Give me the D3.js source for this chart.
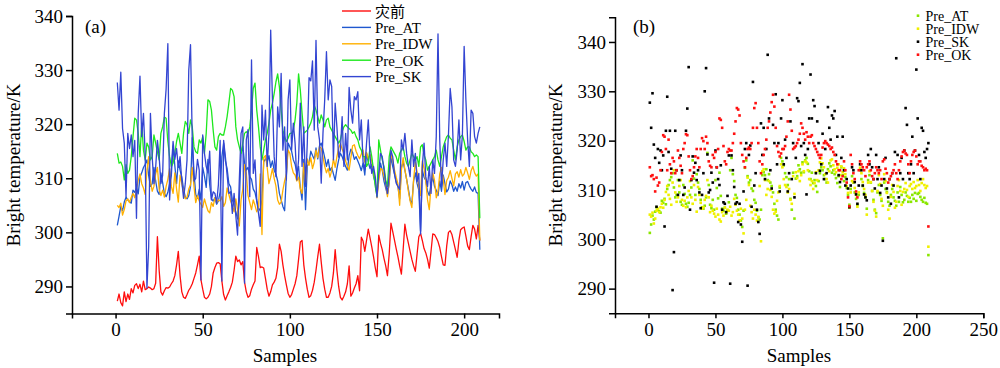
<!DOCTYPE html>
<html>
<head>
<meta charset="utf-8">
<script src="https://cdn.jsdelivr.net/npm/d3@7"></script>
<style>
  body { margin: 0; background: #fff; }
  svg { display: block; }
  .axis text { font-family: "Liberation Serif", "Times New Roman", serif; font-size: 19px; fill: #000; }
  .axis path, .axis line { stroke: #000; stroke-width: 1.5px; }
  .lbl { font-family: "Liberation Serif", "Times New Roman", serif; font-size: 19px; fill: #000; }
  .leg { font-family: "Liberation Serif", "Noto Sans CJK SC", serif; font-size: 15px; fill: #000; }
  .legb { font-family: "Liberation Serif", serif; font-size: 14px; fill: #000; }
</style>
</head>
<body>
<svg id="chart" width="1000" height="368"></svg>
<script>
// samples run from 1 to 209
var firstSample = 1;

var seriesNames = ["灾前", "Pre_AT", "Pre_IDW", "Pre_OK", "Pre_SK"];

var preDisaster = [
  287.3, 288.6, 287.0, 286.4, 289.0, 287.2, 288.6, 287.6, 289.6, 288.8,
  290.2, 290.5, 289.6, 290.4, 289.0, 291.0, 289.4, 289.6, 289.9, 289.7,
  289.4, 289.6, 290.6, 299.2, 293.0, 289.0, 288.4, 289.2, 289.8, 289.7,
  289.9, 290.5, 291.0, 292.0, 294.0, 296.5, 292.0, 289.0, 288.0, 287.8,
  288.5, 289.3, 289.8, 290.5, 291.5, 292.5, 294.0, 295.6, 291.2, 289.5,
  288.0, 287.7, 288.0, 288.6, 290.0, 292.5, 293.5, 294.3, 294.4, 294.2,
  291.0, 288.5, 287.5, 288.3, 289.0, 289.8, 290.8, 293.0, 295.6, 294.6,
  294.9, 294.0, 294.6, 290.8, 289.0, 288.0, 288.3, 289.5, 290.3, 291.0,
  297.2, 295.5, 293.5, 293.6, 293.4, 291.5, 289.5, 288.2, 289.0, 290.3,
  290.8, 291.5, 293.5, 297.8, 296.5, 294.0, 292.0, 290.3, 288.7, 288.0,
  288.5, 289.5, 290.5, 292.0, 295.0, 298.2, 298.5, 294.0, 291.5, 289.5,
  288.0, 288.3, 289.3, 290.8, 293.0, 295.5, 297.8, 294.5, 291.5, 289.5,
  288.0, 288.0, 288.8, 290.0, 292.5, 296.8, 293.0, 290.0, 288.0, 287.5,
  288.2, 289.0, 290.5, 293.8, 288.2, 288.8, 289.7, 290.5, 292.0, 289.2,
  299.1, 298.4, 296.5, 298.5, 300.6, 299.0, 297.3, 295.5, 293.5, 291.8,
  299.5, 298.0, 296.8, 295.2, 293.8, 292.0, 296.0, 301.7, 300.2, 298.6,
  297.0, 295.5, 293.8, 292.3, 296.8, 301.5, 299.5, 298.0, 296.5, 295.0,
  293.8, 292.8, 296.0, 299.2, 299.8, 298.5, 297.0, 296.2, 295.0, 293.4,
  296.5, 299.7, 299.6, 299.0, 298.3, 297.2, 295.5, 294.0, 293.9, 297.5,
  300.0, 300.3, 299.6, 298.2, 296.8, 295.4, 298.5, 300.5, 300.8, 301.0,
  299.3, 297.5, 296.8, 299.2, 301.3, 300.6, 298.8, 301.3, 298.5
];

var preAT = [
  301.3, 303.0, 304.8, 304.0, 305.6, 306.5, 306.0, 305.7, 305.4, 307.8,
  307.4, 308.2, 307.1, 310.2, 311.0, 312.0, 312.6, 313.4, 310.5, 308.5,
  309.0, 312.0, 309.5, 307.6, 307.0, 311.0, 309.2, 307.2, 306.6, 307.4,
  309.0, 310.5, 316.0, 312.3, 309.0, 313.2, 311.5, 310.2, 308.0, 306.5,
  306.2, 306.8, 308.5, 317.5, 311.0, 307.0, 306.3, 308.0, 306.0, 312.0,
  310.4, 308.3, 313.5, 308.8, 306.2, 305.8, 306.4, 305.2, 305.8, 307.5,
  314.0, 316.5, 313.2, 311.8, 309.0, 308.4, 306.0, 305.0, 303.8, 302.5,
  305.8, 314.5, 316.0, 312.8, 311.5, 312.0, 310.3, 309.8, 308.0, 307.4,
  305.8, 304.5, 304.0, 306.0, 313.0, 313.6, 313.0, 314.2, 312.0, 313.2,
  311.5, 310.8, 309.5, 307.2, 306.0, 304.8, 304.0, 310.5, 316.5, 315.8,
  315.0, 313.4, 312.6, 311.0, 312.2, 308.2, 306.0, 313.5, 304.2, 312.3,
  312.8, 315.0, 314.2, 313.5, 315.6, 313.6, 316.0, 316.5, 315.3, 313.8,
  312.2, 313.5, 311.4, 312.0, 310.8, 309.6, 311.8, 313.4, 314.6, 314.0,
  313.0, 312.2, 311.5, 314.2, 315.4, 314.8, 313.5, 314.0, 313.2, 312.4,
  311.4, 312.8, 310.6, 314.6, 313.0, 311.8, 312.6, 310.4, 309.0, 307.0,
  310.2, 312.8, 311.5, 309.5, 308.2, 307.0, 309.0, 314.0, 312.2, 310.8,
  309.4, 308.5, 306.2, 312.0, 313.0, 311.5, 309.8, 308.0, 306.0, 305.3,
  309.5, 311.0, 309.0, 307.8, 300.2, 311.5, 310.2, 309.6, 307.6, 306.8,
  309.0, 310.2, 308.5, 307.8, 306.8, 309.5, 307.6, 310.6, 309.0, 307.5,
  308.0, 309.5, 308.8, 307.6, 308.4, 307.6, 309.0, 308.2, 309.4, 307.8,
  309.2, 309.4, 308.6, 308.0, 307.6, 308.4, 307.4, 307.2, 296.8
];

var preIDW = [
  305.0, 304.6, 305.4, 303.2, 304.2, 305.8, 306.2, 305.5, 306.5, 307.2,
  306.4, 308.0, 309.6, 310.8, 309.0, 308.2, 307.0, 311.5, 314.0, 309.5,
  307.6, 308.5, 310.8, 312.0, 308.0, 306.8, 307.8, 306.5, 308.5, 309.8,
  311.8, 308.5, 307.2, 311.0, 308.0, 305.6, 310.6, 309.0, 307.4, 306.2,
  306.5, 308.0, 308.8, 312.0, 308.5, 305.5, 306.8, 305.8, 305.2, 304.6,
  306.2, 305.0, 304.0, 303.6, 305.5, 304.8, 306.4, 305.5, 306.0, 305.8,
  306.6, 304.8, 305.5, 308.2, 307.0, 305.8, 305.0, 303.8, 306.2, 304.2,
  301.2, 306.0, 308.0, 312.5, 311.0, 306.8, 305.5, 304.2, 306.0, 305.0,
  303.8, 304.5, 310.8, 299.6, 313.8, 314.2, 312.0, 309.0, 310.2, 311.8,
  310.0, 308.6, 306.0, 305.2, 305.6, 307.8, 309.5, 310.8, 315.2, 314.6,
  312.2, 311.0, 310.6, 309.5, 310.2, 308.0, 307.2, 312.8, 309.2, 313.6,
  312.4, 313.8, 311.8, 313.0, 315.2, 313.8, 315.8, 315.6, 314.0, 312.2,
  311.0, 311.8, 310.2, 311.4, 313.6, 312.0, 314.0, 315.6, 316.4, 315.4,
  314.6, 313.2, 312.2, 311.5, 313.8, 316.0, 316.2, 315.0, 314.2, 313.6,
  314.5, 315.2, 313.0, 314.8, 313.6, 314.4, 313.2, 310.8, 309.4, 306.4,
  309.5, 311.8, 311.6, 310.4, 309.0, 306.6, 309.5, 314.5, 313.4, 311.6,
  310.2, 309.0, 305.0, 311.5, 313.8, 311.6, 309.8, 307.6, 305.8, 304.6,
  309.8, 313.0, 311.2, 308.2, 306.8, 313.2, 311.8, 309.4, 306.0, 304.2,
  308.6, 311.0, 309.6, 306.4, 307.6, 310.8, 312.0, 309.8, 307.0, 309.6,
  310.2, 311.4, 310.0, 308.6, 310.8, 311.2, 310.2, 311.6, 310.4, 310.8,
  312.0, 311.0, 309.8, 311.4, 312.2, 311.0, 310.4, 310.8, 298.5
];

var preOK = [
  314.6, 312.8, 313.0, 312.2, 309.7, 312.5, 310.9, 311.5, 314.0, 317.7,
  321.1, 320.8, 318.3, 314.0, 320.2, 315.2, 313.4, 316.5, 315.8, 313.4,
  314.0, 318.0, 316.5, 314.9, 313.4, 318.3, 319.5, 321.3, 321.1, 316.8,
  314.0, 312.2, 312.8, 314.6, 316.8, 318.3, 316.5, 314.6, 318.3, 320.5,
  319.9, 318.3, 320.8, 319.5, 315.8, 314.9, 314.6, 317.1, 316.5, 317.7,
  314.6, 318.3, 324.5, 324.2, 322.6, 318.9, 315.8, 315.2, 317.7, 318.3,
  318.0, 318.0, 319.5, 321.4, 323.9, 326.6, 326.3, 325.1, 319.5, 317.1,
  315.8, 314.6, 316.5, 318.3, 318.6, 318.3, 319.5, 322.6, 326.6, 327.6,
  322.6, 319.5, 315.8, 313.4, 315.2, 317.1, 318.3, 320.2, 322.6, 323.9,
  325.7, 327.8, 329.3, 326.9, 322.6, 318.9, 317.7, 316.8, 317.4, 318.3,
  318.3, 318.9, 320.8, 323.9, 329.3, 326.3, 322.0, 318.3, 318.6, 318.9,
  319.5, 320.2, 321.4, 323.5, 322.6, 321.4, 320.2, 321.7, 320.8, 319.5,
  320.8, 321.1, 319.5, 318.9, 318.3, 317.7, 317.1, 316.5, 317.1, 318.6,
  319.5, 319.9, 319.5, 319.2, 318.9, 318.3, 318.6, 317.7, 317.1, 315.8,
  315.2, 314.0, 314.0, 312.2, 312.8, 315.8, 314.0, 311.5, 308.5, 306.7,
  317.1, 315.2, 313.4, 312.2, 309.7, 308.5, 314.0, 315.8, 315.2, 314.6,
  314.0, 312.8, 314.6, 315.2, 315.8, 314.0, 312.8, 312.2, 313.4, 314.6,
  314.0, 313.4, 314.0, 312.2, 315.8, 316.2, 314.3, 313.4, 311.5, 312.2,
  312.8, 313.4, 314.0, 315.2, 313.4, 312.2, 314.0, 315.8, 316.8, 317.7,
  318.0, 317.4, 317.1, 315.2, 313.4, 315.8, 317.1, 317.7, 318.0, 316.8,
  315.2, 315.8, 315.8, 314.9, 314.6, 314.0, 314.3, 314.0, 302.6
];

var preSK = [
  327.7, 322.6, 329.6, 319.2, 316.5, 306.6, 318.3, 315.5, 318.0, 314.0,
  317.0, 302.6, 322.0, 328.9, 317.7, 322.0, 314.3, 289.7, 297.4, 322.0,
  314.0, 309.0, 312.0, 317.0, 314.0, 309.0, 310.5, 322.0, 326.5, 334.9,
  306.0, 312.0, 316.8, 313.5, 315.5, 312.0, 314.0, 309.5, 306.3, 309.0,
  313.4, 330.0, 334.7, 317.2, 309.5, 310.0, 313.5, 311.5, 291.2, 318.0,
  314.6, 312.2, 311.0, 315.0, 306.0, 307.5, 307.2, 305.5, 308.8, 317.0,
  291.0, 317.0, 314.0, 310.6, 307.2, 307.5, 303.5, 307.2, 303.0, 299.5,
  309.7, 318.3, 319.5, 290.6, 317.1, 319.0, 306.6, 331.9, 310.9, 313.4,
  306.0, 303.5, 301.1, 323.5, 317.1, 322.6, 312.2, 318.3, 337.4, 324.5,
  314.0, 310.3, 323.2, 319.5, 329.4, 315.2, 319.5, 309.7, 324.5, 328.2,
  315.2, 320.2, 316.5, 309.7, 313.4, 323.9, 312.2, 319.5, 308.5, 316.5,
  328.6, 328.0, 331.7, 318.9, 335.5, 319.5, 317.1, 309.1, 318.3, 324.5,
  333.4, 324.5, 328.2, 327.0, 313.4, 323.9, 319.5, 313.9, 315.2, 321.4,
  312.2, 318.3, 313.4, 326.8, 322.6, 320.2, 325.1, 324.5, 326.0, 317.1,
  320.8, 313.0, 311.6, 316.5, 320.8, 314.0, 310.9, 312.2, 310.3, 306.5,
  310.9, 314.6, 314.0, 311.6, 309.1, 307.2, 310.9, 315.2, 314.0, 310.9,
  309.1, 308.5, 307.9, 317.1, 315.2, 318.3, 314.6, 312.2, 310.3, 317.1,
  312.2, 314.6, 309.4, 310.9, 299.7, 312.2, 316.5, 310.3, 308.5, 312.2,
  307.2, 313.4, 310.9, 317.7, 336.7, 317.1, 308.5, 313.4, 316.5, 312.2,
  318.0, 326.6, 323.2, 313.4, 312.2, 315.2, 320.8, 313.4, 318.0, 334.4,
  324.5, 317.1, 312.2, 322.6, 322.0, 317.7, 316.5, 318.3, 319.5
];

var tempTicks = [290, 300, 310, 320, 330, 340];
var leftSampleTicks = [0, 50, 100, 150, 200];
var rightSampleTicks = [0, 50, 100, 150, 200, 250];

(function () {
  "use strict";

  var svg = d3.select("#chart");

  var lineColors = ["#ff0d0d", "#1f58cf", "#ffb000", "#1ee81e", "#3345d2"];
  var lineValues = [preDisaster, preAT, preIDW, preOK, preSK];

  // ---- panel (a): lines ----
  var xa = d3.scaleLinear().domain([-25, 220]).range([72, 499]);
  var ya = d3.scaleLinear().domain([285, 340]).range([313.5, 16]);

  svg.append("g").attr("class", "axis")
    .attr("transform", "translate(0,313.5)")
    .call(d3.axisBottom(xa).tickValues(leftSampleTicks).tickSizeOuter(0).tickSize(5).tickPadding(4));
  svg.append("g").attr("class", "axis")
    .attr("transform", "translate(72,0)")
    .call(d3.axisLeft(ya).tickValues(tempTicks).tickSizeOuter(0).tickSize(6).tickPadding(3));

  var line = d3.line()
    .x(function (d, i) { return xa(i + firstSample); })
    .y(function (d) { return ya(d); });

  lineValues.forEach(function (vals, k) {
    svg.append("path")
      .datum(vals)
      .attr("d", line)
      .attr("fill", "none")
      .attr("stroke", lineColors[k])
      .attr("stroke-width", 1.3)
      .attr("stroke-linejoin", "round");
  });

  svg.append("text").attr("class", "lbl").attr("x", 85).attr("y", 33).text("(a)");
  svg.append("text").attr("class", "lbl").attr("x", 285).attr("y", 362)
    .attr("text-anchor", "middle").text("Samples");
  svg.append("text").attr("class", "lbl")
    .attr("transform", "translate(20,165) rotate(-90)")
    .attr("text-anchor", "middle").text("Bright temperature/K");

  var legA = svg.append("g").attr("transform", "translate(342,11)");
  seriesNames.forEach(function (name, k) {
    var yy = k * 16.4;
    legA.append("line").attr("x1", 0).attr("x2", 29).attr("y1", yy).attr("y2", yy)
      .attr("stroke", lineColors[k]).attr("stroke-width", 1.4);
    legA.append("text").attr("class", "leg").attr("x", 33).attr("y", yy + 5.5).text(name);
  });

  // ---- panel (b): points ----
  var xb = d3.scaleLinear().domain([-25, 250]).range([615, 983.3]);
  var yb = d3.scaleLinear().domain([285, 345]).range([313.3, 17.3]);

  svg.append("g").attr("class", "axis")
    .attr("transform", "translate(0,313.3)")
    .call(d3.axisBottom(xb).tickValues(rightSampleTicks).tickSizeOuter(0).tickSize(5).tickPadding(4));
  svg.append("g").attr("class", "axis")
    .attr("transform", "translate(615,0)")
    .call(d3.axisLeft(yb).tickValues(tempTicks).tickSizeOuter(0).tickSize(6).tickPadding(3));

  var dotNames = ["Pre_AT", "Pre_IDW", "Pre_SK", "Pre_OK"];
  var dotColors = ["#8ae600", "#f0f000", "#000000", "#ff1010"];
  var dotValues = [preAT, preIDW, preSK, preOK];
  var sz = 2.6;

  dotValues.forEach(function (vals, k) {
    svg.append("g").selectAll("rect")
      .data(vals)
      .enter().append("rect")
      .attr("x", function (d, i) { return xb(i + firstSample) - sz / 2; })
      .attr("y", function (d) { return yb(d) - sz / 2; })
      .attr("width", sz).attr("height", sz)
      .attr("fill", dotColors[k]);
  });

  svg.append("text").attr("class", "lbl").attr("x", 633).attr("y", 33).text("(b)");
  svg.append("text").attr("class", "lbl").attr("x", 799).attr("y", 362)
    .attr("text-anchor", "middle").text("Samples");
  svg.append("text").attr("class", "lbl")
    .attr("transform", "translate(562,165) rotate(-90)")
    .attr("text-anchor", "middle").text("Bright temperature/K");

  // tight rows, as in the source figure
  var legB = svg.append("g").attr("transform", "translate(918,15.7)");
  dotNames.forEach(function (name, k) {
    var yy = k * 13;
    legB.append("rect").attr("x", -sz / 2).attr("y", yy - sz / 2)
      .attr("width", sz).attr("height", sz).attr("fill", dotColors[k]);
    legB.append("text").attr("class", "legb").attr("x", 7.5).attr("y", yy + 5).text(name);
  });
})();
</script>
</body>
</html>
